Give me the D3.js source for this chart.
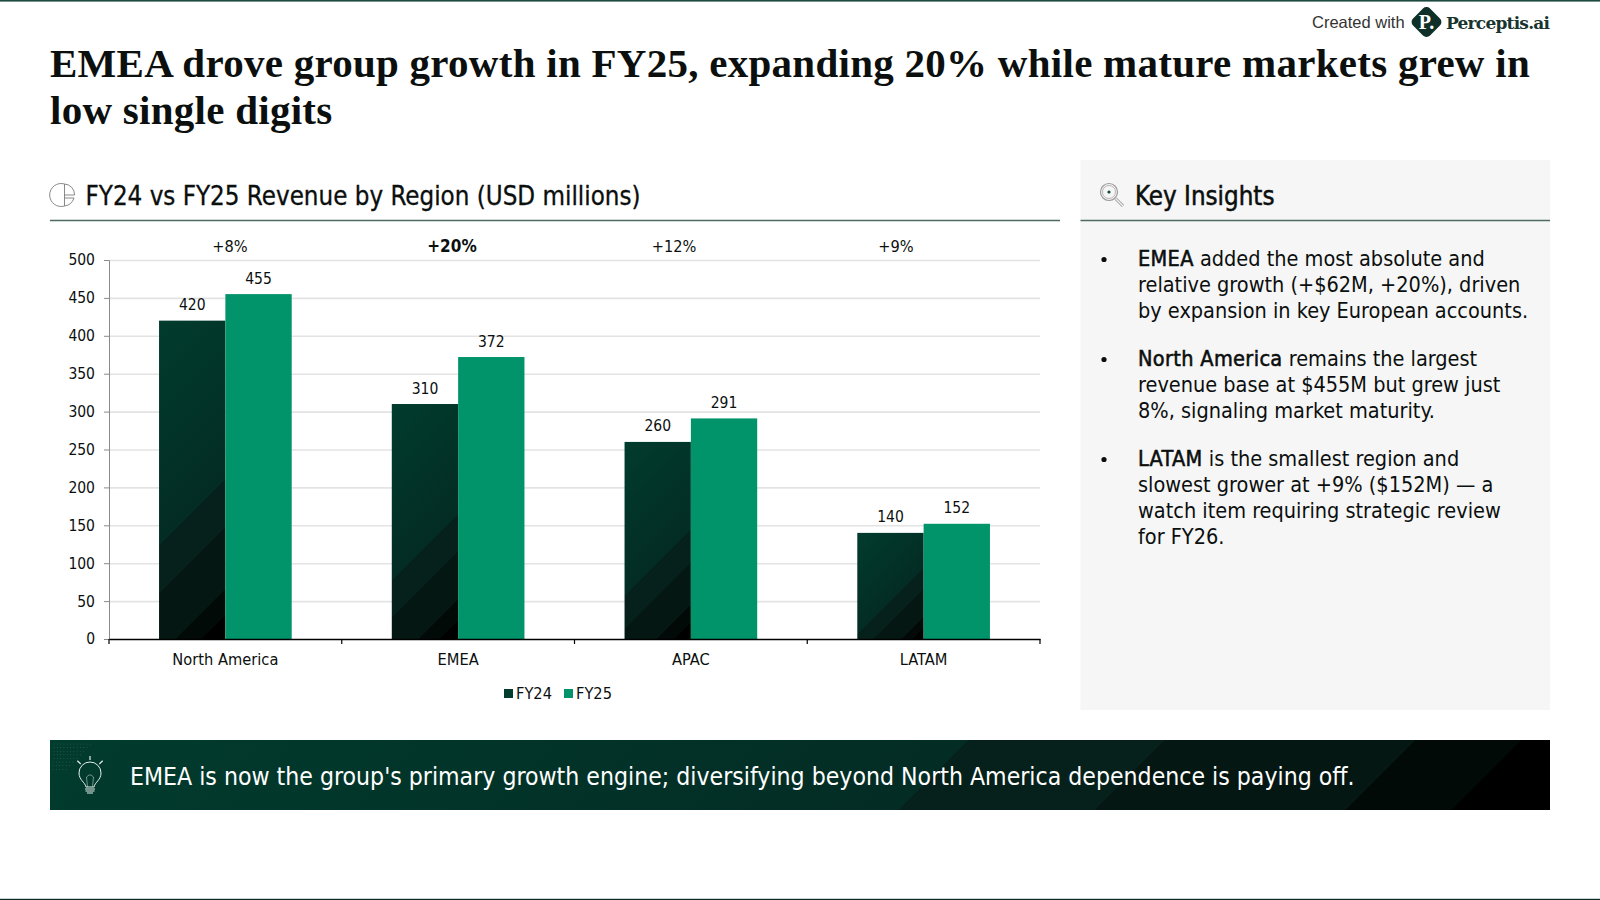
<!DOCTYPE html>
<html>
<head>
<meta charset="utf-8">
<script src="https://cdn.jsdelivr.net/npm/d3@7"></script>
<style>
  html, body { margin: 0; padding: 0; background: #fff; }
  svg { display: block; }
  text { font-family: "DejaVu Sans Condensed", "DejaVu Sans", sans-serif; font-stretch: condensed; fill: #0b0f0e; }
  .title { font-family: "Liberation Serif", serif; font-stretch: normal; font-weight: bold; font-size: 41px; letter-spacing: 0.27px; }
  .heading { font-size: 25.7px; }
  .body-line { font-size: 21.5px; }
  .strong { stroke: #0b0f0e; stroke-width: 0.55px; letter-spacing: 0.35px; }
  .tick-label { font-size: 15.5px; }
  .band-label { font-size: 16.3px; }
  .grid line { stroke: #e3e3e3; stroke-width: 1.6px; }
  .y.axis .domain, .y.axis .tick line { stroke: #8a8a8a; }
</style>
</head>
<body>
<div id="chart"></div>
<script>
// Chart data
var REGIONS = ["North America", "EMEA", "APAC", "LATAM"];
var FY24 = [420, 310, 260, 140];
var FY25 = [455, 372, 291, 152];
var GROWTH = ["+8%", "+20%", "+12%", "+9%"];
var SERIES = ["FY24", "FY25"];
var Y_TICKS = [0, 50, 100, 150, 200, 250, 300, 350, 400, 450, 500];

// Text
var TITLE_LINES = [
  "EMEA drove group growth in FY25, expanding 20% while mature markets grew in",
  "low single digits"
];
var CHART_HEADING = "FY24 vs FY25 Revenue by Region (USD millions)";
var PANEL_HEADING = "Key Insights";
var BANNER_TEXT = "EMEA is now the group's primary growth engine; diversifying beyond North America dependence is paying off.";
var INSIGHTS = [
  [["EMEA", " added the most absolute and"], ["", "relative growth (+$62M, +20%), driven"], ["", "by expansion in key European accounts."]],
  [["North America", " remains the largest"], ["", "revenue base at $455M but grew just"], ["", "8%, signaling market maturity."]],
  [["LATAM", " is the smallest region and"], ["", "slowest grower at +9% ($152M) \u2014 a"], ["", "watch item requiring strategic review"], ["", "for FY26."]]
];

var GREEN = "#01946a";
var RAMP = [
  [0, "#013c2e"], [0.585, "#032c24"],
  [0.585, "#06211b"], [0.71, "#06211b"],
  [0.71, "#051712"], [0.87, "#051712"],
  [0.87, "#020a08"], [0.937, "#020a08"],
  [0.937, "#000000"], [1, "#000000"]
];

var width = 1600;
var height = 900;
var svg = d3.select("#chart").append("svg").attr("width", width).attr("height", height);
var defs = svg.append("defs");
var gradientCount = 0;

// Stepped 135deg gradient sized to one box, returns the fill url
var diagonalFill = function(x, y, w, h) {
  var id = "ramp-" + gradientCount++;
  var cx = x + w / 2;
  var cy = y + h / 2;
  var half = (w + h) / 4;
  var gradient = defs.append("linearGradient")
    .attr("id", id)
    .attr("gradientUnits", "userSpaceOnUse")
    .attr("x1", cx - half).attr("y1", cy - half)
    .attr("x2", cx + half).attr("y2", cy + half);
  gradient.selectAll("stop").data(RAMP).enter().append("stop")
    .attr("offset", d => d[0])
    .attr("stop-color", d => d[1]);
  return "url(#" + id + ")";
};

// Page frame
svg.append("rect").attr("width", width).attr("height", 1.6).attr("fill", "#1f4a3f");
svg.append("rect").attr("y", 898.8).attr("width", width).attr("height", 1.2).attr("fill", "#0a2a24");

// Brand
svg.append("text").attr("x", 1312).attr("y", 28)
  .style("font-family", "'Liberation Sans', sans-serif").style("font-stretch", "normal")
  .style("font-size", "16.5px").style("fill", "#333")
  .text("Created with");
var logo = svg.append("g").attr("transform", "translate(1426.5,22)");
logo.append("rect").attr("x", -12).attr("y", -12).attr("width", 24).attr("height", 24).attr("rx", 5)
  .attr("transform", "rotate(45)").attr("fill", "#0f2f29");
logo.append("text").attr("text-anchor", "middle").attr("y", 7)
  .style("font-family", "'Liberation Serif', serif").style("font-stretch", "normal").style("font-weight", "bold")
  .style("font-size", "20px").style("fill", "#fff").text("P.");
svg.append("text").attr("x", 1446).attr("y", 29)
  .style("font-family", "'DejaVu Serif', serif").style("font-stretch", "normal").style("font-weight", "bold")
  .style("font-size", "17px").style("fill", "#17352e")
  .attr("textLength", 104).text("Perceptis.ai");

// Title
svg.selectAll(".title").data(TITLE_LINES).enter().append("text")
  .attr("class", "title")
  .attr("x", 50)
  .attr("y", (d, i) => 76.5 + i * 47.5)
  .text(d => d);

// Insights panel background
svg.append("rect").attr("x", 1080.5).attr("y", 160).attr("width", 469.5).attr("height", 550).attr("fill", "#f6f6f6");

// Section headings and their rules
svg.append("line").attr("x1", 50).attr("x2", 1060).attr("y1", 220.5).attr("y2", 220.5)
  .attr("stroke", "#4d6b62").attr("stroke-width", 1.5);
svg.append("line").attr("x1", 1080.5).attr("x2", 1550).attr("y1", 220.5).attr("y2", 220.5)
  .attr("stroke", "#4d6b62").attr("stroke-width", 1.5);
svg.append("text").attr("class", "heading").attr("x", 85.5).attr("y", 205)
  .style("stroke", "#0b0f0e").style("stroke-width", "0.3px").text(CHART_HEADING);
svg.append("text").attr("class", "heading").attr("x", 1135).attr("y", 205)
  .style("stroke", "#0b0f0e").style("stroke-width", "0.5px").text(PANEL_HEADING);

// Pie icon
var pieIcon = svg.append("g").attr("transform", "translate(62.5,195)")
  .attr("fill", "none").attr("stroke", "#7c7c7c").attr("stroke-width", 0.9);
pieIcon.append("path").attr("d", "M2,-11 A11.5,11.5 0 1 0 2,11 L2,-11");
pieIcon.append("path").attr("d", "M2,0 L12,0 A10.5,10.5 0 0 0 2,-11");
pieIcon.append("path").attr("d", "M2,11 A11.5,11.5 0 0 0 11.5,3 L2,3");

// Magnifier icon
var lens = svg.append("g").attr("transform", "translate(1109,192)")
  .attr("fill", "none").attr("stroke", "#9a9a9a");
lens.append("circle").attr("r", 8.5).attr("stroke-width", 1.2);
lens.append("circle").attr("r", 6.5).attr("stroke-width", 0.7);
lens.append("circle").attr("r", 1.6).attr("fill", "#0f4a3a").attr("stroke", "none");
lens.append("path").attr("d", "M6.5,6.5 L14,14").attr("stroke-width", 3);
lens.append("path").attr("d", "M6.5,6.5 L14,14").attr("stroke", "#f6f6f6").attr("stroke-width", 1.2);

// Chart
var plot = { left: 109, right: 1040, top: 260, bottom: 639 };

var xScale = d3.scaleBand().domain(REGIONS).range([plot.left, plot.right]).paddingInner(0.43).paddingOuter(0.215);
var seriesScale = d3.scaleBand().domain(SERIES).range([0, xScale.bandwidth()]);
var yScale = d3.scaleLinear().domain([0, 500]).range([plot.bottom, plot.top]);
var growthScale = d3.scalePoint().domain(REGIONS).range([230, 896]);

var yAxis = d3.axisLeft(yScale).tickValues(Y_TICKS).tickSize(5).tickPadding(9).tickSizeOuter(5);

svg.append("g").attr("class", "y grid").attr("transform", "translate(" + plot.left + ",0)")
  .call(d3.axisLeft(yScale).tickValues(Y_TICKS.slice(1)).tickSize(-(plot.right - plot.left)).tickFormat(""))
  .select(".domain").remove();

svg.append("g").attr("class", "y axis").attr("transform", "translate(" + plot.left + ",0)")
  .call(yAxis)
  .selectAll("text").attr("class", "tick-label");

// Bars
var rows = REGIONS.map((region, i) => [
  { region: region, series: "FY24", value: FY24[i] },
  { region: region, series: "FY25", value: FY25[i] }
]).flat();

var barX = d => xScale(d.region) + seriesScale(d.series);

svg.append("g").selectAll("rect").data(rows).enter().append("rect")
  .attr("x", barX)
  .attr("y", d => yScale(d.value))
  .attr("width", seriesScale.bandwidth())
  .attr("height", d => yScale(0) - yScale(d.value))
  .attr("fill", d => d.series == "FY25" ? GREEN : diagonalFill(barX(d), yScale(d.value), seriesScale.bandwidth(), yScale(0) - yScale(d.value)));

svg.append("g").selectAll("text").data(rows).enter().append("text")
  .attr("class", "tick-label")
  .attr("text-anchor", "middle")
  .attr("x", d => barX(d) + seriesScale.bandwidth() / 2)
  .attr("y", d => yScale(d.value) - 10.5)
  .text(d => d.value);

// X axis, ticks sit on the band edges
var xAxis = svg.append("g").attr("class", "x axis").attr("transform", "translate(0," + plot.bottom + ")");
xAxis.call(d3.axisBottom(xScale).tickSize(0).tickPadding(14).tickSizeOuter(0))
  .selectAll("text").attr("class", "band-label").style("fill", "#0b0f0e");
xAxis.select(".domain").attr("stroke", "#000").attr("stroke-width", 1.6);
xAxis.selectAll(".edge").data(d3.range(REGIONS.length + 1)).enter().append("line")
  .attr("class", "edge")
  .attr("x1", i => plot.left + i * xScale.step())
  .attr("x2", i => plot.left + i * xScale.step())
  .attr("y1", 0).attr("y2", 5)
  .attr("stroke", "#000").attr("stroke-width", 1.2);

// Growth labels above the plot
svg.append("g").selectAll("text").data(REGIONS).enter().append("text")
  .attr("text-anchor", "middle")
  .attr("x", d => growthScale(d))
  .attr("y", 252)
  .style("font-size", (d, i) => GROWTH[i] == "+20%" ? "17px" : "16.2px")
  .style("font-weight", (d, i) => GROWTH[i] == "+20%" ? "bold" : "normal")
  .text((d, i) => GROWTH[i]);

// Legend
var legendX = d3.scaleOrdinal().domain(SERIES).range([504, 564]);
var legend = svg.append("g").selectAll("g").data(SERIES).enter().append("g")
  .attr("transform", d => "translate(" + legendX(d) + ",689)");
legend.append("rect").attr("width", 9).attr("height", 9)
  .attr("fill", d => d == "FY25" ? GREEN : diagonalFill(legendX(d), 689, 9, 9));
legend.append("text").attr("class", "band-label").attr("x", 12).attr("y", 10).text(d => d);

// Insights
var insightY = 266;
INSIGHTS.forEach(function(block) {
  svg.append("circle").attr("cx", 1104).attr("cy", insightY - 6.5).attr("r", 2.6).attr("fill", "#0b0f0e");
  block.forEach(function(line) {
    var text = svg.append("text").attr("class", "body-line").attr("x", 1138).attr("y", insightY);
    if (line[0]) {
      text.append("tspan").attr("class", "strong").text(line[0]);
    }
    text.append("tspan").text(line[1]);
    insightY += 26;
  });
  insightY += 22;
});

// Banner
svg.append("rect").attr("x", 50).attr("y", 740).attr("width", 1500).attr("height", 70)
  .attr("fill", diagonalFill(50, 740, 1500, 70));
svg.append("text").attr("x", 130).attr("y", 785)
  .style("font-size", "24.6px").style("fill", "#fff").text(BANNER_TEXT);

// Dotted corner of the banner
var dots = [];
d3.range(0, 8).forEach(function(row) {
  d3.range(0, 12 - row).forEach(function(col) {
    dots.push([54 + col * 3.3 - (row > 4 ? 1 : 0), 744 + row * 3.6]);
  });
});
svg.append("g").selectAll("circle").data(dots).enter().append("circle")
  .attr("cx", d => d[0]).attr("cy", d => d[1]).attr("r", 0.5)
  .attr("fill", "#7d8f88").attr("opacity", 0.4);

// Bulb icon
var bulb = svg.append("g").attr("transform", "translate(90,779)")
  .attr("fill", "none").attr("stroke", "#e8ecea").attr("stroke-width", 1);
bulb.append("path").attr("d", "M-4,8 C-5,3 -11,1 -11,-6 A11,11 0 0 1 11,-6 C11,1 5,3 4,8 Z");
bulb.append("path").attr("d", "M-2.5,8 L-3.5,-2 L-1,-4 L1,-4 L3.5,-2 L2.5,8").attr("stroke-width", 0.7).attr("opacity", 0.7);
bulb.append("path").attr("d", "M-5,10 H5 M-4.5,12 H4.5 M-3,14 H3").attr("stroke-width", 1.2);
bulb.append("path").attr("d", "M0,-23 V-19 M-12.7,-18.3 L-9.3,-15 M12.7,-18.3 L9.3,-15").attr("stroke-width", 1.2);
</script>
</body>
</html>
